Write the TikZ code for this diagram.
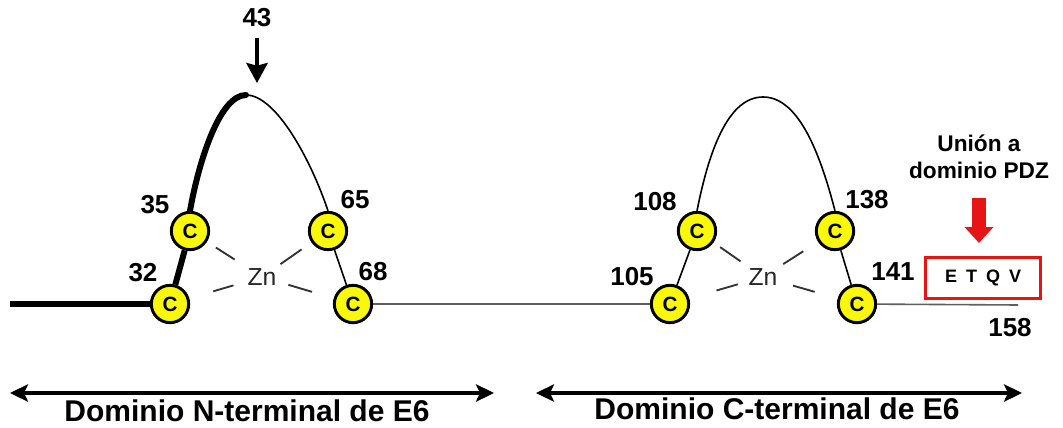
\documentclass[tikz,border=0pt]{standalone}
\usepackage{fontspec}
\setmainfont{Liberation Sans}
\usetikzlibrary{arrows.meta,calc}
\definecolor{cyel}{RGB}{250,248,10}
\definecolor{cred}{RGB}{230,20,20}
\definecolor{lgray}{RGB}{95,95,95}
\begin{document}
\begin{tikzpicture}[x=0.75pt,y=-0.75pt,
  cys/.style={circle,draw=black,line width=2.2pt,fill=cyel,minimum size=28pt,inner sep=0pt,font=\bfseries\fontsize{15.5}{15.5}\selectfont},
  num/.style={font=\bfseries\fontsize{19.5}{19.5}\selectfont,inner sep=0pt},
  zn/.style={font=\fontsize{18.5}{18.5}\selectfont,text=black!85,inner sep=1pt},
  dsh/.style={line width=1.4pt,draw=black!80},
  thinline/.style={line width=1.2pt},
  thickline/.style={line width=4.5pt},
  dom/.style={font=\bfseries\fontsize{22.5}{22.5}\selectfont,inner sep=0pt},
  darr/.style={line width=2.4pt,{Stealth[length=13.5pt,width=13pt,inset=3pt]}-{Stealth[length=13.5pt,width=13pt,inset=3pt]}}
]
\useasboundingbox (0,0) rectangle (1063,428);

% cysteines
\node[cys] (c32) at (170,304) {C};
\node[cys] (c35) at (190,231) {C};
\node[cys] (c65) at (328,231) {C};
\node[cys] (c68) at (353,304) {C};
\node[cys] (c105) at (670,304) {C};
\node[cys] (c108) at (697,231) {C};
\node[cys] (c138) at (835,231) {C};
\node[cys] (c141) at (857,304) {C};

\node[zn] (zn1) at (262,277) {Zn};
\node[zn] (zn2) at (763,277) {Zn};

% backbone
\coordinate (lstart) at (10,304);
\coordinate (p1) at (246,95);
\coordinate (p2) at (763,97);
\coordinate (rend) at (1018,305);
\draw[thickline] (lstart) -- (c32);
\draw[thickline] (c32) -- (c35);
\draw[thickline,line cap=round] (c35.north) .. controls (199,160) and (220,95) .. (p1);
\draw[thinline] (p1) .. controls (276,95) and (311,160) .. (c65.north);
\draw[thinline] (c65) -- (c68);
\draw[thinline,lgray] (c68) -- (c105);
\draw[thinline] (c105) -- (c108);
\draw[thinline] (c108.north) .. controls (710,145) and (730,97) .. (p2);
\draw[thinline] (p2) .. controls (796,97) and (818,145) .. (c138.north);
\draw[thinline] (c138) -- (c141);
\draw[thinline,lgray] (c141) -- (rend);

% zinc coordination
\draw[dsh] ($(c35)!0.36!(zn1)$) -- ($(c35)!0.62!(zn1)$);
\draw[dsh] ($(c65)!0.4!(zn1)$) -- ($(c65)!0.72!(zn1)$);
\draw[dsh] ($(c32)!0.47!(zn1)$) -- ($(c32)!0.69!(zn1)$);
\draw[dsh] ($(c68)!0.45!(zn1)$) -- ($(c68)!0.71!(zn1)$);
\draw[dsh] ($(c108)!0.35!(zn2)$) -- ($(c108)!0.66!(zn2)$);
\draw[dsh] ($(c138)!0.44!(zn2)$) -- ($(c138)!0.72!(zn2)$);
\draw[dsh] ($(c105)!0.5!(zn2)$) -- ($(c105)!0.73!(zn2)$);
\draw[dsh] ($(c141)!0.45!(zn2)$) -- ($(c141)!0.68!(zn2)$);

% numbers
\node[num] (n43) at (257,18) {43};
\node[num] (n35) at (155,205) {35};
\node[num] (n32) at (143,273) {32};
\node[num] (n65) at (355,200) {65};
\node[num] (n68) at (373,272) {68};
\node[num] (n108) at (655,202) {108};
\node[num] (n138) at (867,200) {138};
\node[num] (n105) at (632,277) {105};
\node[num] (n141) at (893,272) {141};
\node[num] (n158) at (1010,328) {158};

% arrow at 43
\coordinate (a43s) at (257,38);
\coordinate (a43e) at (257,83);
\draw[line width=2.6pt,-{Stealth[length=15pt,width=16pt,inset=2pt]}] (a43s) -- (a43e);

% PDZ
\node[font=\bfseries\fontsize{17}{20}\selectfont,align=center,inner sep=0pt] (pdz) at (979,157) {Unión a\\dominio PDZ};
\coordinate (ra1) at (979,198);
\coordinate (ra2) at (979,243);
\draw[cred,line width=11pt,-{Triangle[length=12pt,width=21pt]}] (ra1) -- (ra2);
\node[draw=cred,line width=2pt,minimum width=86pt,minimum height=30.5pt,inner sep=0pt,
      font=\bfseries\fontsize{13.5}{13.5}\selectfont] (etqv) at (983,278)
      {E\hspace{0.5em}T\hspace{0.5em}Q\hspace{0.5em}V};

% domains
\coordinate (l1) at (10,393);
\coordinate (l2) at (494,393);
\coordinate (r1) at (536,393);
\coordinate (r2) at (1022,393);
\draw[darr] (l1) -- (l2);
\draw[darr] (r1) -- (r2);
\node[dom] (dn) at (247,411) {Dominio N-terminal de E6};
\node[dom] (dc) at (777,409) {Dominio C-terminal de E6};
\end{tikzpicture}
\end{document}
